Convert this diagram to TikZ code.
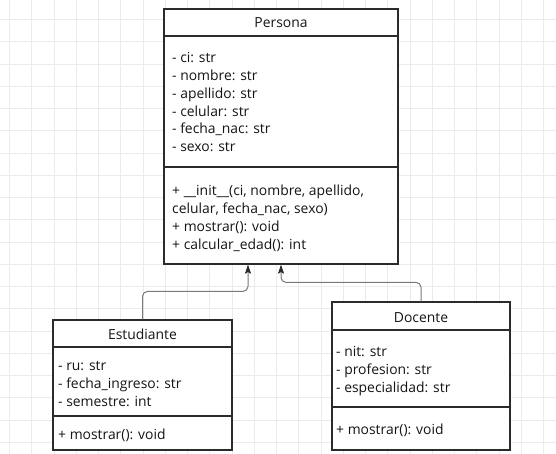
\documentclass[tikz,border=0pt]{standalone}
\usepackage{fontspec}
\setmainfont{Open Sans}
\usetikzlibrary{arrows.meta,calc}
\definecolor{gridc}{HTML}{EBEBEB}
\definecolor{linec}{HTML}{2B2B2B}
\definecolor{connc}{HTML}{7A7A7A}
\definecolor{txtc}{HTML}{151515}
\tikzset{
  umlbox/.style={draw=linec, line width=1.2pt, fill=white, inner sep=0pt},
  sepline/.style={draw=linec, line width=1.2pt},
  txt/.style={anchor=base west, inner sep=0pt, text=txtc, font=\fontsize{13.9}{16}\selectfont},
  ttl/.style={anchor=base, inner sep=0pt, text=txtc, font=\fontsize{13.9}{16}\selectfont},
  conn/.style={draw=connc, line width=1pt, rounded corners=5pt,
    -{Stealth[length=9pt,width=6pt,inset=1.5pt,color=linec]}},
  gridline/.style={draw=gridc, line width=0.8pt}
}
\begin{document}
\begin{tikzpicture}[x=1pt,y=-1pt]
\useasboundingbox (0,0) rectangle (556,454);
\fill[white] (0,0) rectangle (556,454);
% grid
\foreach \k in {0,...,24} {
  \draw[gridline] ({9.5+22.25*\k},0) -- ({9.5+22.25*\k},454);
}
\foreach \k in {0,...,20} {
  \draw[gridline] (0,{19.5+22.25*\k}) -- (556,{19.5+22.25*\k});
}
% boxes
\node[umlbox, minimum width=234pt, minimum height=255pt] (persona) at (281,136.5) {};
\node[umlbox, minimum width=179pt, minimum height=130pt] (est) at (142.5,385) {};
\node[umlbox, minimum width=178pt, minimum height=148pt] (doc) at (421,376) {};
% separators
\draw[sepline] (164,36) -- (398,36);
\draw[sepline] (164,167) -- (398,167);
\draw[sepline] (53,347) -- (232,347);
\draw[sepline] (53,416) -- (232,416);
\draw[sepline] (332,330) -- (510,330);
\draw[sepline] (332,407) -- (510,407);
% titles
\node[ttl] (tp) at (281,28) {Persona};
\node[ttl] (te) at (142.5,339) {Estudiante};
\node[ttl] (td) at (421,322) {Docente};
% Persona attributes
\foreach \t [count=\i] in {{- ci: str},{- nombre: str},{- apellido: str},{- celular: str},{- fecha\_nac: str},{- sexo: str}} {
  \node[txt] (pa\i) at (172,{63+(\i-1)*17.75}) {\t};
}
\foreach \t [count=\i] in {{+ \_\_init\_\_(ci, nombre, apellido,},{celular, fecha\_nac, sexo)},{+ mostrar(): void},{+ calcular\_edad(): int}} {
  \node[txt] (pm\i) at (172,{196+(\i-1)*17.75}) {\t};
}
% Estudiante
\foreach \t [count=\i] in {{- ru: str},{- fecha\_ingreso: str},{- semestre: int}} {
  \node[txt] (ea\i) at (58,{370+(\i-1)*18}) {\t};
}
\node[txt] (em1) at (58,439) {+ mostrar(): void};
% Docente
\foreach \t [count=\i] in {{- nit: str},{- profesion: str},{- especialidad: str}} {
  \node[txt] (da\i) at (336,{356+(\i-1)*18}) {\t};
}
\node[txt] (dm1) at (336,434) {+ mostrar(): void};
% connectors
\draw[conn] (est.north) -- ++(0,-28) -| ($(persona.south)+(-33,0)$);
\draw[conn] (doc.north) -- ++(0,-19) -| (persona.south);
\end{tikzpicture}
\end{document}
